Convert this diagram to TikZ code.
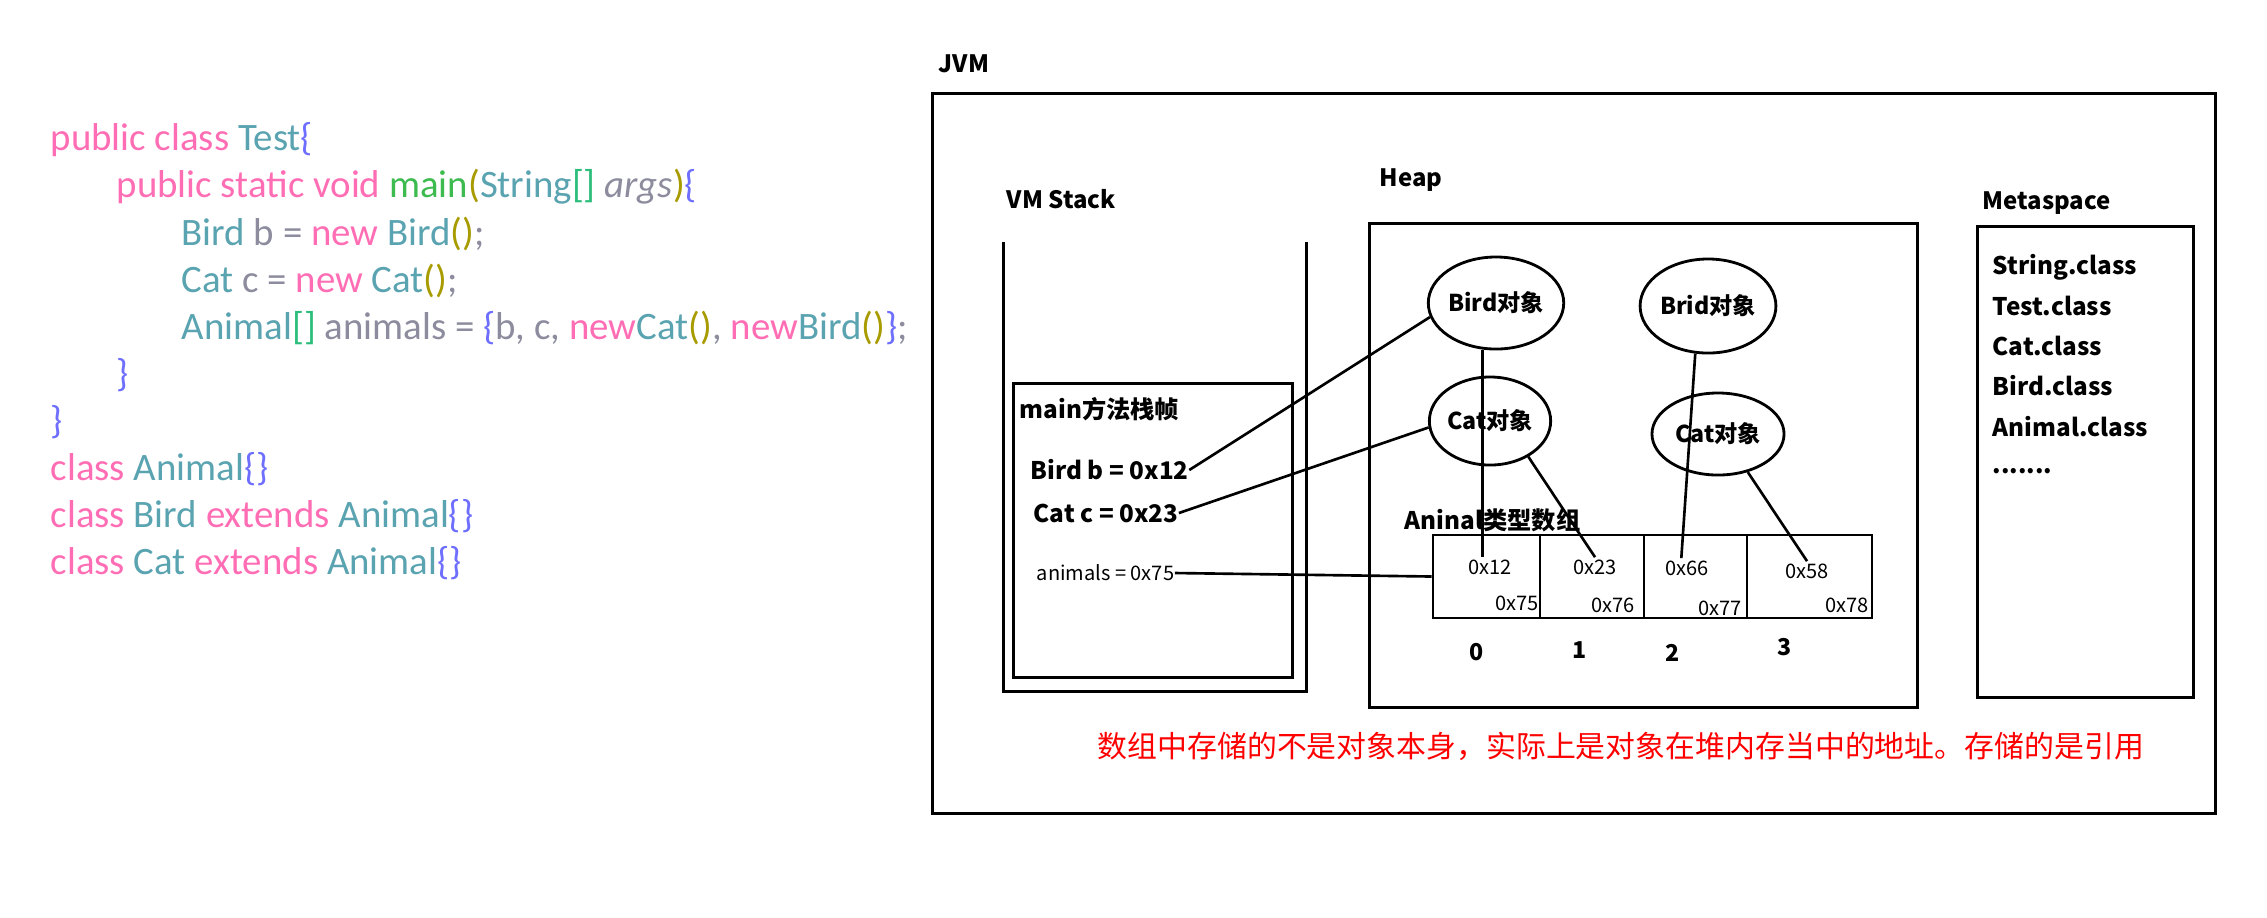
\documentclass[tikz,border=0pt]{standalone}
\usepackage{fontspec}
\setmainfont{Carlito}
\newfontfamily\cjk{Noto Sans CJK SC}
\usetikzlibrary{shapes.geometric}
% colours of the source listing
\definecolor{kwpink}{HTML}{FF6EB4}
\definecolor{typeteal}{HTML}{5AA3B0}
\definecolor{vargray}{HTML}{8C8C9E}
\definecolor{fngreen}{HTML}{3DBB4E}
\definecolor{bkgreen}{HTML}{2DBE7C}
\definecolor{parolive}{HTML}{A89B00}
\definecolor{brcblue}{HTML}{6E6EFF}
\newcommand\cKw[1]{\textcolor{kwpink}{#1}}
\newcommand\cTy[1]{\textcolor{typeteal}{#1}}
\newcommand\cVar[1]{\textcolor{vargray}{#1}}
\newcommand\cFn[1]{\textcolor{fngreen}{#1}}
\newcommand\cBrk[1]{\textcolor{bkgreen}{#1}}
\newcommand\cPar[1]{\textcolor{parolive}{#1}}
\newcommand\cBrc[1]{\textcolor{brcblue}{#1}}
\begin{document}
\begin{tikzpicture}[x=0.01cm,y=-0.01cm]
  \tikzstyle{codeline}=[anchor=west, inner sep=0pt, font=\fontsize{11.05}{13}\selectfont]
  \tikzstyle{areatitle}=[anchor=west, inner sep=0pt, font=\cjk\bfseries\fontsize{6.8}{8}\selectfont]
  \tikzstyle{varline}=[anchor=west, inner sep=0pt, font=\cjk\bfseries\fontsize{6.9}{8}\selectfont]
  \tikzstyle{box}=[draw, line width=0.85pt]
  \tikzstyle{objnode}=[draw, ellipse, line width=0.8pt, inner sep=0pt, font=\cjk\bfseries\fontsize{6.6}{8}\selectfont]
  \tikzstyle{cell}=[draw, line width=0.8pt, minimum height=0.83cm, inner sep=0pt]
  \tikzstyle{cellval}=[inner sep=0.5pt, font=\cjk\fontsize{5.7}{7}\selectfont]
  \tikzstyle{idx}=[inner sep=0pt, font=\cjk\bfseries\fontsize{6.6}{8}\selectfont]
  \tikzstyle{ref}=[line width=0.75pt]
  \useasboundingbox (0,0) rectangle (2267,917);

  % the java source
  \node[codeline] (code1) at (50,140) {\cKw{public class} \cTy{Test}\cBrc{\{}};
  \node[codeline] (code2) at (116,187) {\cKw{public static void} \cFn{main}\cPar{(}\cTy{String}\cBrk{[]} \cVar{\itshape args}\cPar{)}\cBrc{\{}};
  \node[codeline] (code3) at (181,234) {\cTy{Bird} \cVar{b} \cVar{=} \cKw{new} \cTy{Bird}\cPar{()}\cVar{;}};
  \node[codeline] (code4) at (181,281) {\cTy{Cat} \cVar{c} \cVar{=} \cKw{new} \cTy{Cat}\cPar{()}\cVar{;}};
  \node[codeline] (code5) at (181,328) {\cTy{Animal}\cBrk{[]} \cVar{animals} \cVar{=} \cBrc{\{}\cVar{b, c,} \cKw{new}\cTy{Cat}\cPar{()}\cVar{,} \cKw{new}\cTy{Bird}\cPar{()}\cBrc{\}}\cVar{;}};
  \node[codeline] (code6) at (116,375) {\cBrc{\}}};
  \node[codeline] (code7) at (50,422) {\cBrc{\}}};
  \node[codeline] (code8) at (50,469) {\cKw{class} \cTy{Animal}\cBrc{\{\}}};
  \node[codeline] (code9) at (50,516) {\cKw{class} \cTy{Bird} \cKw{extends} \cTy{Animal}\cBrc{\{\}}};
  \node[codeline] (code10) at (50,563) {\cKw{class} \cTy{Cat} \cKw{extends} \cTy{Animal}\cBrc{\{\}}};

  % JVM frame
  \node[areatitle] (jvmtitle) at (938,64) {JVM};
  \draw[box] (932,93) rectangle (2215,813);

  % VM stack with the main frame
  \node[areatitle] (stacktitle) at (1006,199) {VM Stack};
  \draw[box] (1003,242) -- (1003,691) -- (1306,691) -- (1306,242);
  \draw[box] (1013,383) rectangle (1292,677);
  \node[varline] (frametitle) at (1019,409) {main方法栈帧};
  \node[varline] (bvar) at (1030,470) {Bird b = 0x12};
  \node[varline] (cvar) at (1033,513) {Cat c = 0x23};
  \node[anchor=west, inner sep=0pt, font=\cjk\fontsize{5.7}{7}\selectfont] (avar) at (1036,573) {animals = 0x75};

  % heap
  \node[areatitle] (heaptitle) at (1379,180) {Heap};
  \draw[box] (1369,223) rectangle (1917,707);
  \node[objnode, minimum width=1.12cm, minimum height=0.92cm] (bird) at (1496,303) {Bird对象};
  \node[objnode, minimum width=1.14cm, minimum height=0.88cm] (cat) at (1490,421) {Cat对象};
  \node[objnode, minimum width=1.12cm, minimum height=0.94cm] (brid) at (1708,306) {Brid对象};
  \node[objnode, minimum width=1.32cm, minimum height=0.82cm] (cattwo) at (1718,434) {Cat对象};

  \node[varline] (arrtitle) at (1404,520) {Aninal类型数组};
  \node[cell, minimum width=1.07cm] (cell0) at (1486.5,576.5) {};
  \node[cell, minimum width=1.04cm] (cell1) at (1592,576.5) {};
  \node[cell, minimum width=1.03cm] (cell2) at (1695.5,576.5) {};
  \node[cell, minimum width=1.25cm] (cell3) at (1809.5,576.5) {};
  \node[cellval] (v12) at (1490,567) {0x12};
  \node[cellval] (v23) at (1595,567) {0x23};
  \node[cellval] (v66) at (1687,568) {0x66};
  \node[cellval] (v58) at (1807,571) {0x58};
  \node[cellval] (a75) at (1517,603) {0x75};
  \node[cellval] (a76) at (1613,605) {0x76};
  \node[cellval] (a77) at (1720,608) {0x77};
  \node[cellval] (a78) at (1847,605) {0x78};
  \node[idx] (i0) at (1477,652) {0};
  \node[idx] (i1) at (1580,650) {1};
  \node[idx] (i2) at (1673,653) {2};
  \node[idx] (i3) at (1785,647) {3};

  % references
  \draw[ref] (bvar.east) -- (bird.192);
  \draw[ref] (cvar.east) -- (cat.186);
  \draw[ref] (avar.east) -- (cell0.west);
  \draw[ref] (bird.254) -- (bird.254 |- v12.north);
  \draw[ref] (cat.317) -- (v23.north);
  \draw[ref] (brid.255) -- (v66.120);
  \draw[ref] (cattwo.308) -- (v58.north);

  % metaspace
  \node[areatitle] (metatitle) at (1982,203) {Metaspace};
  \draw[box] (1977,226) rectangle (2193,697);
  \node[varline] (cls1) at (1992,267) {String.class};
  \node[varline] (cls2) at (1992,306) {Test.class};
  \node[varline] (cls3) at (1992,346) {Cat.class};
  \node[varline] (cls4) at (1992,386) {Bird.class};
  \node[varline] (cls5) at (1992,427) {Animal.class};
  \node[varline, anchor=base west] (cls6) at (1992,473) {.......};

  \node[anchor=west, inner sep=0pt, text=red, font=\cjk\fontsize{8.5}{10}\selectfont] (note) at (1097,746) {数组中存储的不是对象本身，实际上是对象在堆内存当中的地址。存储的是引用};
\end{tikzpicture}
\end{document}
